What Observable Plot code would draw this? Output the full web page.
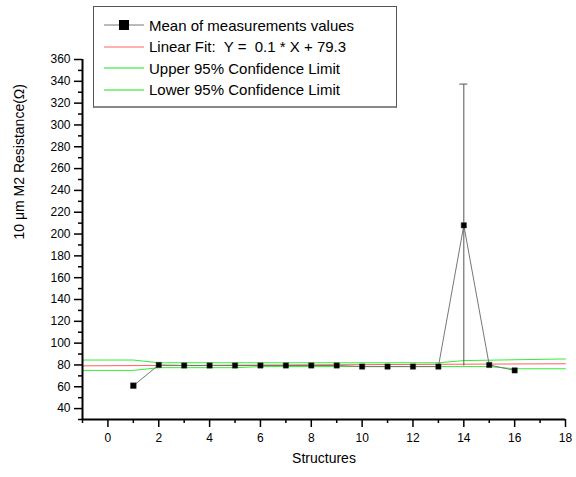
<!DOCTYPE html>
<html>
<head>
<meta charset="utf-8">
<script src="https://cdn.jsdelivr.net/npm/d3@7"></script>
<script src="https://cdn.jsdelivr.net/npm/@observablehq/plot@0.6"></script>
<style>
  html, body { margin: 0; padding: 0; background: #fff; }
  #wrap { position: relative; width: 576px; height: 477px; font-family: "Liberation Sans", Arial, sans-serif; }
  #legend { position: absolute; left: 93px; top: 6px; width: 304px; height: 102px; border: 1px solid #555; border-bottom: 2px solid #888; background: #fff; box-sizing: border-box; }
  .row { position: absolute; left: 10px; height: 20px; display: flex; align-items: center; font-size: 15px; color: #000; white-space: pre; }
  .row svg { margin-right: 5px; }
</style>
</head>
<body>
<div id="wrap"></div>
<script>
// ---- data ----
const structures = [1, 2, 3, 4, 5, 6, 7, 8, 9, 10, 11, 12, 13, 14, 15, 16];
const meanValues = [61, 80, 79.5, 79.5, 79.5, 79.5, 79.5, 79.5, 79.5, 78.5, 78.5, 78.5, 78.5, 208, 80, 75];
const errValues  = [0, 0, 0, 0, 0, 0, 0, 0, 0, 0, 0, 0, 0, 129, 0, 0];
const fitX = [-1, 18];
const fitY = [79.2, 81.1];
const upperX = [-1, 1, 2, 13, 14, 18];
const upperY = [84.5, 84.5, 82, 82, 84, 85.5];
const lowerX = [-1, 1, 2, 5, 6, 15, 16, 18];
const lowerY = [75, 75, 77.5, 77.5, 78.5, 78.5, 76.5, 76.5];
const xMajor = [0, 2, 4, 6, 8, 10, 12, 14, 16, 18];
const xMinor = [-1, 1, 3, 5, 7, 9, 11, 13, 15, 17];
const yMajor = [40, 60, 80, 100, 120, 140, 160, 180, 200, 220, 240, 260, 280, 300, 320, 340, 360];
const yMinor = [30, 50, 70, 90, 110, 130, 150, 170, 190, 210, 230, 250, 270, 290, 310, 330, 350];
const legendLabels = ["Mean of measurements values", "Linear Fit:  Y =  0.1 * X + 79.3", "Upper 95% Confidence Limit", "Lower 95% Confidence Limit"];

const pts = structures.map((x, i) => ({x, y: meanValues[i], e: errValues[i]}));
const errPts = pts.filter(d => d.e > 0);
const fit = fitX.map((x, i) => ({x, y: fitY[i]}));
const upper = upperX.map((x, i) => ({x, y: upperY[i]}));
const lower = lowerX.map((x, i) => ({x, y: lowerY[i]}));

const chart = Plot.plot({
  width: 576,
  height: 477,
  marginLeft: 82,
  marginRight: 11,
  marginTop: 59,
  marginBottom: 58,
  style: {fontFamily: "'Liberation Sans', Arial, sans-serif", fontSize: "12px", background: "#fff", color: "#000"},
  x: {domain: [-1, 18], label: null},
  y: {domain: [30, 360], label: null},
  marks: [
    Plot.axisX({ticks: xMinor, tickSize: 4, text: null, label: null, stroke: "#000", strokeWidth: 1.5}),
    Plot.axisX({ticks: xMajor, tickSize: 8, tickPadding: 6, stroke: "#000", strokeWidth: 1.5, label: null, fontSize: 12}),
    Plot.axisY({ticks: yMinor, tickSize: 4, text: null, label: null, stroke: "#000", strokeWidth: 1.5}),
    Plot.axisY({ticks: yMajor, tickSize: 8, tickPadding: 4, stroke: "#000", strokeWidth: 1.5, label: null, fontSize: 12}),
    Plot.line(upper, {x: "x", y: "y", stroke: "#33ee33", strokeWidth: 1}),
    Plot.line(lower, {x: "x", y: "y", stroke: "#33ee33", strokeWidth: 1}),
    Plot.line(fit, {x: "x", y: "y", stroke: "#ff6060", strokeWidth: 1}),
    Plot.line(pts, {x: "x", y: "y", stroke: "#777", strokeWidth: 1}),
    Plot.ruleX(errPts, {x: "x", y1: d => d.y - d.e, y2: d => d.y + d.e, stroke: "#555", strokeWidth: 1}),
    Plot.dot(pts, {x: "x", y: "y", symbol: "square", r: d => d.x === 1 ? 6.2 : 5.4, fill: "#000", stroke: "#333", strokeWidth: 0.5}),
    Plot.ruleX([-1], {y1: 30, y2: 360, stroke: "#000", strokeWidth: 2}),
    Plot.ruleY([30], {x1: -1, x2: 18, stroke: "#000", strokeWidth: 2}),
    Plot.text(["Structures"], {frameAnchor: "bottom", dy: 43, fontSize: 14}),
    Plot.text(["10 μm M2 Resistance(Ω)"], {frameAnchor: "left", rotate: -90, dx: -63, fontSize: 14})
  ]
});

// error bar cap
const sx = chart.scale("x"), sy = chart.scale("y");
const capSvg = d3.select(chart);
errPts.forEach(d => {
  capSvg.append("line")
    .attr("x1", sx.apply(d.x) - 4).attr("x2", sx.apply(d.x) + 4)
    .attr("y1", sy.apply(d.y + d.e)).attr("y2", sy.apply(d.y + d.e))
    .attr("stroke", "#555").attr("stroke-width", 1);
});

const wrap = document.getElementById("wrap");
wrap.appendChild(chart);

// legend
const legend = document.createElement("div");
legend.id = "legend";
const swatches = [
  `<svg width="40" height="12"><line x1="0" y1="6" x2="40" y2="6" stroke="#777"/><rect x="15" y="1" width="10" height="10" fill="#000"/></svg>`,
  `<svg width="40" height="12"><line x1="0" y1="6" x2="40" y2="6" stroke="#ff6060"/></svg>`,
  `<svg width="40" height="12"><line x1="0" y1="6" x2="40" y2="6" stroke="#66ee66" stroke-width="1.5"/></svg>`,
  `<svg width="40" height="12"><line x1="0" y1="6" x2="40" y2="6" stroke="#66ee66" stroke-width="1.5"/></svg>`
];
legendLabels.forEach((t, i) => {
  const r = document.createElement("div");
  r.className = "row";
  r.style.top = (8 + i * 21.5) + "px";
  r.innerHTML = swatches[i] + `<span>${t}</span>`;
  legend.appendChild(r);
});
wrap.appendChild(legend);
</script>
</body>
</html>
